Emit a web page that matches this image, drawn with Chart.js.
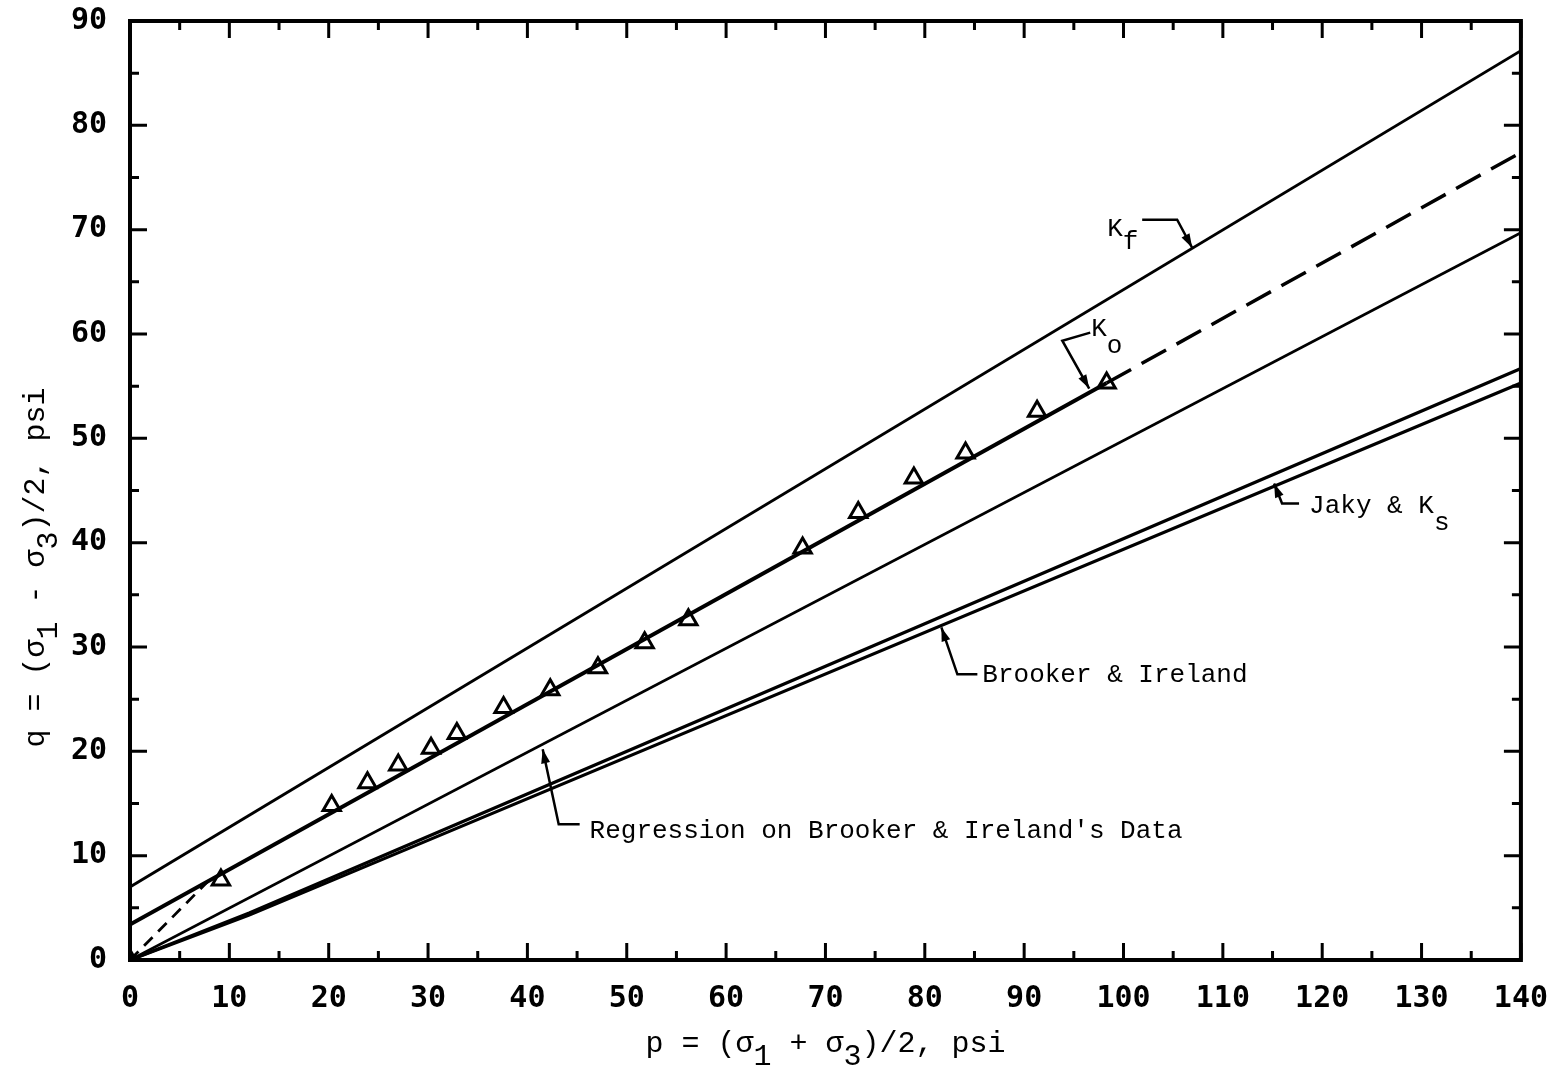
<!DOCTYPE html>
<html><head><meta charset="utf-8">
<script src="https://cdn.jsdelivr.net/npm/chart.js@4/dist/chart.umd.min.js"></script>
<style>html,body{margin:0;padding:0;background:#fff;overflow:hidden}#wrap{width:1569px;height:1096px;position:relative;margin-top:-20px}</style>
</head><body><div id="wrap"><canvas id="c"></canvas></div>
<script>
// ---- data ----
const xTickValues = [0,10,20,30,40,50,60,70,80,90,100,110,120,130,140];
const yTickValues = [0,10,20,30,40,50,60,70,80,90];

// measured points (triangles)
const testP = [0, 9.15, 20.3, 23.9, 27.0, 30.3, 32.9, 37.6, 42.3, 47.1, 51.8, 56.2, 67.7, 73.3, 78.9, 84.1, 91.3, 98.3];
const testQ = [0, 7.66, 14.8, 17.0, 18.7, 20.3, 21.7, 24.2, 25.9, 28.0, 30.4, 32.6, 39.5, 42.9, 46.2, 48.6, 52.6, 55.3];

// Kf line
const kfP = [0, 140];
const kfQ = [7.0, 87.15];
// Ko line (solid part, then dashed extension)
const koP = [0, 98.3];
const koQ = [3.4, 55.3];
const koExtP = [98.3, 140];
const koExtQ = [55.3, 77.4];
// dashed start from origin
const originP = [0, 7.8];
const originQ = [0, 7.5];
// Regression on Brooker & Ireland's data
const regP = [0, 140];
const regQ = [0, 69.7];
// Brooker & Ireland (upper of the pair)
const brookerP = [0, 12, 140];
const brookerQ = [0, 4.5, 56.7];
// Jaky & Ks (lower of the pair)
const jakyP = [0, 12, 140];
const jakyQ = [0, 4.3, 55.3];

const toXY = (P, Q) => P.map((p, i) => ({x: p, y: Q[i]}));

// annotation texts (positions in data units)
const notes = [
  {parts: [['K',0],['f',1]], p: 98.36, q: 69.42, subDy: 13,
   leader: [[101.88,70.95],[105.40,70.95],[106.91,68.27]]},
  {parts: [['K',0],['o',1]], p: 96.75, q: 59.84, subDy: 17,
   leader: [[96.65,60.13],[93.84,59.36],[96.55,54.77]]},
  {parts: [['Jaky & K',0],['s',1]], p: 118.68, q: 42.80, subDy: 17,
   leader: [[117.67,43.76],[115.96,43.76],[115.16,45.67]]},
  {parts: [['Brooker & Ireland',0]], p: 85.79, q: 26.62, subDy: 0,
   leader: [[85.29,27.38],[83.28,27.38],[81.67,31.88]]},
  {parts: [["Regression on Brooker & Ireland's Data",0]], p: 46.26, q: 11.68, subDy: 0,
   leader: [[45.26,13.02],[43.15,13.02],[41.54,20.20]]}
];
const xTitle = [['p = (σ',0],['1',1],[' + σ',0],['3',1],[')/2, psi',0]];
const yTitle = [['q = (σ',0],['1',1],[' - σ',0],['3',1],[')/2, psi',0]];

const TXT_FONT = '26px "Liberation Mono", "Courier New", monospace';
const TITLE_FONT = '30px "Liberation Mono", "Courier New", monospace';

function richWidth(ctx, parts) {
  let w = 0;
  for (const [t] of parts) w += ctx.measureText(t).width;
  return w;
}
function drawRich(ctx, x, y, parts, subDy) {
  let cx = x;
  for (const [t, sub] of parts) {
    ctx.fillText(t, cx, y + (sub ? subDy : 0));
    cx += ctx.measureText(t).width;
  }
}

const decorPlugin = {
  id: 'decor',
  afterDatasetsDraw(chart) {
    const ctx = chart.ctx, a = chart.chartArea;
    const xs = chart.scales.x, ys = chart.scales.y;
    ctx.save();
    ctx.strokeStyle = '#000';
    ctx.fillStyle = '#000';
    ctx.lineCap = 'butt';
    // ticks (inward), major every 10, minor every 5
    ctx.lineWidth = 3;
    for (let v = xs.min; v <= xs.max; v += 5) {
      const px = xs.getPixelForValue(v);
      const len = (v % 10 === 0) ? 17 : 9;
      ctx.beginPath();
      ctx.moveTo(px, a.bottom); ctx.lineTo(px, a.bottom - len);
      ctx.moveTo(px, a.top); ctx.lineTo(px, a.top + len);
      ctx.stroke();
    }
    for (let v = ys.min; v <= ys.max; v += 5) {
      const py = ys.getPixelForValue(v);
      const len = (v % 10 === 0) ? 17 : 9;
      ctx.beginPath();
      ctx.moveTo(a.left, py); ctx.lineTo(a.left + len, py);
      ctx.moveTo(a.right, py); ctx.lineTo(a.right - len, py);
      ctx.stroke();
    }
    // frame
    ctx.lineWidth = 4;
    ctx.strokeRect(a.left, a.top, a.right - a.left, a.bottom - a.top);

    // annotations
    ctx.font = TXT_FONT;
    ctx.textBaseline = 'alphabetic';
    ctx.textAlign = 'left';
    for (const n of notes) {
      drawRich(ctx, xs.getPixelForValue(n.p), ys.getPixelForValue(n.q), n.parts, n.subDy);
      const pts = n.leader.map(([p, q]) => [xs.getPixelForValue(p), ys.getPixelForValue(q)]);
      ctx.lineWidth = 2.5;
      ctx.beginPath();
      pts.forEach(([x, y], i) => i ? ctx.lineTo(x, y) : ctx.moveTo(x, y));
      ctx.stroke();
      // arrow head
      const [x1, y1] = pts[pts.length - 2], [x2, y2] = pts[pts.length - 1];
      const ang = Math.atan2(y2 - y1, x2 - x1);
      const L = 14, W = 4.5;
      ctx.beginPath();
      ctx.moveTo(x2, y2);
      ctx.lineTo(x2 - L * Math.cos(ang) + W * Math.sin(ang), y2 - L * Math.sin(ang) - W * Math.cos(ang));
      ctx.lineTo(x2 - L * Math.cos(ang) - W * Math.sin(ang), y2 - L * Math.sin(ang) + W * Math.cos(ang));
      ctx.closePath();
      ctx.fill();
    }

    // axis titles (relative to the plot area)
    ctx.font = TITLE_FONT;
    const xcx = (a.left + a.right) / 2;
    const xw = richWidth(ctx, xTitle);
    drawRich(ctx, xcx - xw / 2, a.bottom + 92, xTitle, 13);
    ctx.save();
    ctx.translate(a.left - 86, (a.top + a.bottom) / 2 + 77);
    ctx.rotate(-Math.PI / 2);
    const yw = richWidth(ctx, yTitle);
    drawRich(ctx, -yw / 2, 0, yTitle, 13);
    ctx.restore();
    ctx.restore();
  }
};

const lineDS = (label, P, Q, width, dash) => ({
  type: 'line', label, data: toXY(P, Q), borderColor: '#000', borderWidth: width,
  borderDash: dash || [], pointRadius: 0, fill: false, tension: 0, order: 2
});

new Chart(document.getElementById('c'), {
  type: 'scatter',
  data: {
    datasets: [
      {label: 'Measured', data: toXY(testP, testQ), pointStyle: 'triangle', pointRadius: 10,
       pointBorderWidth: 3, borderColor: '#000', backgroundColor: 'rgba(255,255,255,0)', order: 1},
      lineDS('Kf', kfP, kfQ, 2.8),
      lineDS('Ko', koP, koQ, 4),
      lineDS('Ko (extended)', koExtP, koExtQ, 3.5, [28, 12]),
      lineDS('Ko (origin)', originP, originQ, 2.8, [12, 8]),
      lineDS("Regression on Brooker & Ireland's Data", regP, regQ, 2.8),
      lineDS('Brooker & Ireland', brookerP, brookerQ, 3.2),
      lineDS('Jaky & Ks', jakyP, jakyQ, 3.2)
    ]
  },
  options: {
    responsive: true, maintainAspectRatio: false, animation: false,
    layout: {padding: {top: 2, right: 33, left: 0, bottom: 0}},
    plugins: {legend: {display: false}, tooltip: {enabled: false}},
    scales: {
      x: {type: 'linear', min: 0, max: 140,
          afterBuildTicks: s => { s.ticks = xTickValues.map(v => ({value: v})); },
          afterFit: s => { s.height = 116; },
          grid: {display: false, drawTicks: false}, border: {display: false},
          ticks: {color: '#000', padding: 21, maxRotation: 0,
                  font: {family: '"DejaVu Sans Mono", monospace', size: 30, weight: 'bold'}}},
      y: {type: 'linear', min: 0, max: 90,
          afterBuildTicks: s => { s.ticks = yTickValues.map(v => ({value: v})); },
          afterFit: s => { s.width = 130; },
          grid: {display: false, drawTicks: false}, border: {display: false},
          ticks: {color: '#000', padding: 23,
                  font: {family: '"DejaVu Sans Mono", monospace', size: 30, weight: 'bold'}}}
    }
  },
  plugins: [decorPlugin]
});
</script></body></html>
